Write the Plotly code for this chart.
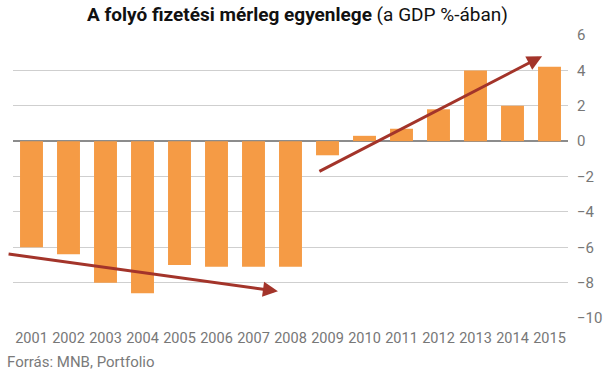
import plotly.graph_objects as go

years = ["2001", "2002", "2003", "2004", "2005", "2006", "2007", "2008",
         "2009", "2010", "2011", "2012", "2013", "2014", "2015"]
balance = [-6.0, -6.4, -8.0, -8.6, -7.0, -7.1, -7.1, -7.1,
           -0.8, 0.3, 0.7, 1.8, 4.0, 2.0, 4.2]
y_ticks = [6, 4, 2, 0, -2, -4, -6, -8, -10]

# trend arrows: (start index, start value, end index, end value)
trend1 = [-0.66, -6.37, 6.66, -8.49]
trend2 = [7.74, -1.75, 13.8, 4.8]

bar_color = "#F59B45"
arrow_color = "#A3342A"

fig = go.Figure()
fig.add_trace(go.Bar(x=years, y=balance, marker_color=bar_color,
                     marker_line_width=0, hoverinfo="x+y"))

for t in (trend1, trend2):
    fig.add_annotation(x=t[2], y=t[3], ax=t[0], ay=t[1],
                       xref="x", yref="y", axref="x", ayref="y",
                       showarrow=True, arrowhead=2, arrowsize=1.0,
                       arrowwidth=3, arrowcolor=arrow_color, text="")

fig.add_annotation(text="<b>A folyó fizetési mérleg egyenlege</b> (a GDP %-ában)",
                   xref="paper", yref="paper", x=0.513, y=1.0, yshift=21,
                   xanchor="center", yanchor="middle", showarrow=False,
                   font=dict(family="Roboto", size=19, color="#111111"))
fig.add_annotation(text="Forrás: MNB, Portfolio",
                   xref="paper", yref="paper", x=-0.014, y=0, yshift=-44,
                   xanchor="left", yanchor="middle", showarrow=False,
                   font=dict(family="Roboto", size=15, color="#7a7a7a"))

fig.update_layout(
    width=610, height=375,
    margin=dict(l=13, r=42, t=35, b=57),
    plot_bgcolor="white", paper_bgcolor="white",
    bargap=0.38, showlegend=False,
    font=dict(family="Roboto", color="#777777"),
    xaxis=dict(type="category", showgrid=False, showline=False,
               ticks="", tickfont=dict(size=14.5, color="#777777"),
               ticklabelstandoff=9,
               range=[-0.5, 14.5], automargin=False),
    yaxis=dict(side="right", range=[-10, 6], tickvals=y_ticks,
               showgrid=True, gridcolor="#cfcfcf", gridwidth=1,
               zeroline=True, zerolinecolor="#8c8c8c", zerolinewidth=1.5,
               ticks="", tickfont=dict(size=15, color="#777777"),
               ticklabelstandoff=8, automargin=False),
)

fig.write_html("out.html", config={"displayModeBar": False},
               post_script="document.body.style.margin='0';document.body.style.padding='0';")
